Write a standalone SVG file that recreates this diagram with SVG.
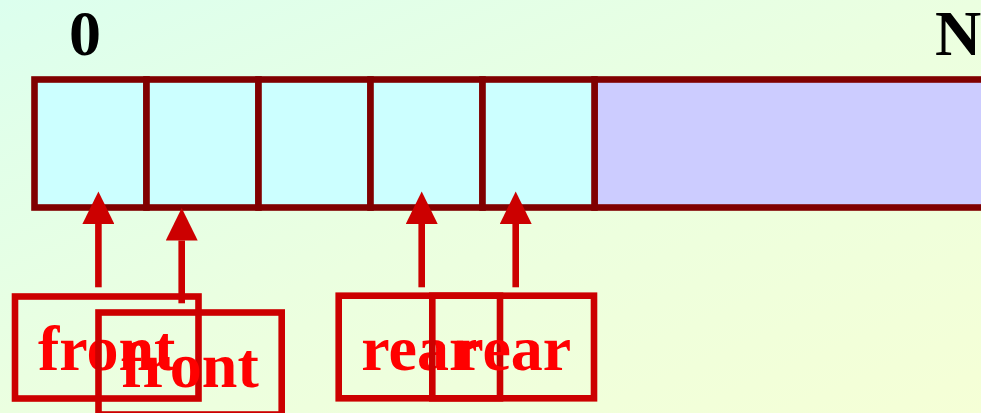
<svg xmlns="http://www.w3.org/2000/svg" width="981" height="413" viewBox="0 0 981 413">
  <defs>
    <linearGradient id="bg" x1="0" y1="0" x2="1" y2="1">
      <stop offset="0" stop-color="#DCFFEE"/>
      <stop offset="0.5" stop-color="#EBFFE0"/>
      <stop offset="1" stop-color="#F5FFD6"/>
    </linearGradient>
    <marker id="head" viewBox="0 -16 33 32" refX="0" refY="0" markerUnits="userSpaceOnUse" markerWidth="33" markerHeight="32" orient="auto">
      <path d="M0,-16 L32.5,0 L0,16 Z" fill="#CC0000"/>
    </marker>
    <style>
      .cell { fill: #CCFFFF; stroke: #800000; stroke-width: 6.6; }
      .free { fill: #CCCCFF; stroke: #800000; stroke-width: 6.6; }
      .idx { font-family: "Liberation Serif", "Times New Roman", serif; font-weight: bold; font-size: 64px; fill: #000000; text-anchor: middle; }
      .box { fill: none; stroke: #CC0000; stroke-width: 6.6; }
      .lbl { font-family: "Liberation Serif", "Times New Roman", serif; font-weight: bold; font-size: 64px; fill: #FF0000; text-anchor: middle; }
      .arrow { stroke: #CC0000; stroke-width: 6.6; fill: none; marker-end: url(#head); }
    </style>
  </defs>
  <rect x="0" y="0" width="981" height="413" fill="url(#bg)"/>

  <g id="index-0"><text class="idx" x="85" y="55">0</text></g>
  <g id="index-N"><text class="idx" x="958" y="55">N</text></g>

  <g id="array">
    <rect class="free" x="594.5" y="79.5" width="420" height="128"/>
    <rect class="cell" x="34.5" y="79.5" width="112" height="128"/>
    <rect class="cell" x="146.5" y="79.5" width="112" height="128"/>
    <rect class="cell" x="258.5" y="79.5" width="112" height="128"/>
    <rect class="cell" x="370.5" y="79.5" width="112" height="128"/>
    <rect class="cell" x="482.5" y="79.5" width="112" height="128"/>
  </g>

  <g id="connectors">
    <line class="arrow" x1="98.4" y1="287.3" x2="98.4" y2="224"/>
    <line class="arrow" x1="181.7" y1="303.3" x2="181.7" y2="240.5"/>
    <line class="arrow" x1="421.7" y1="287.3" x2="421.7" y2="224"/>
    <line class="arrow" x1="515.7" y1="287.3" x2="515.7" y2="224"/>
  </g>

  <g id="front-1">
    <rect class="box" x="15" y="296.5" width="183.5" height="102"/>
    <text class="lbl" x="106.7" y="370">front</text>
  </g>
  <g id="front-2">
    <rect class="box" x="98.5" y="312.5" width="183.2" height="102"/>
    <text class="lbl" x="190" y="386.7">front</text>
  </g>
  <g id="rear-1">
    <rect class="box" x="338.7" y="295.7" width="161.3" height="102.6"/>
    <text class="lbl" x="419.3" y="370">rear</text>
  </g>
  <g id="rear-2">
    <rect class="box" x="432.3" y="295.7" width="161.7" height="102.6"/>
    <text class="lbl" x="513.2" y="370">rear</text>
  </g>
</svg>
